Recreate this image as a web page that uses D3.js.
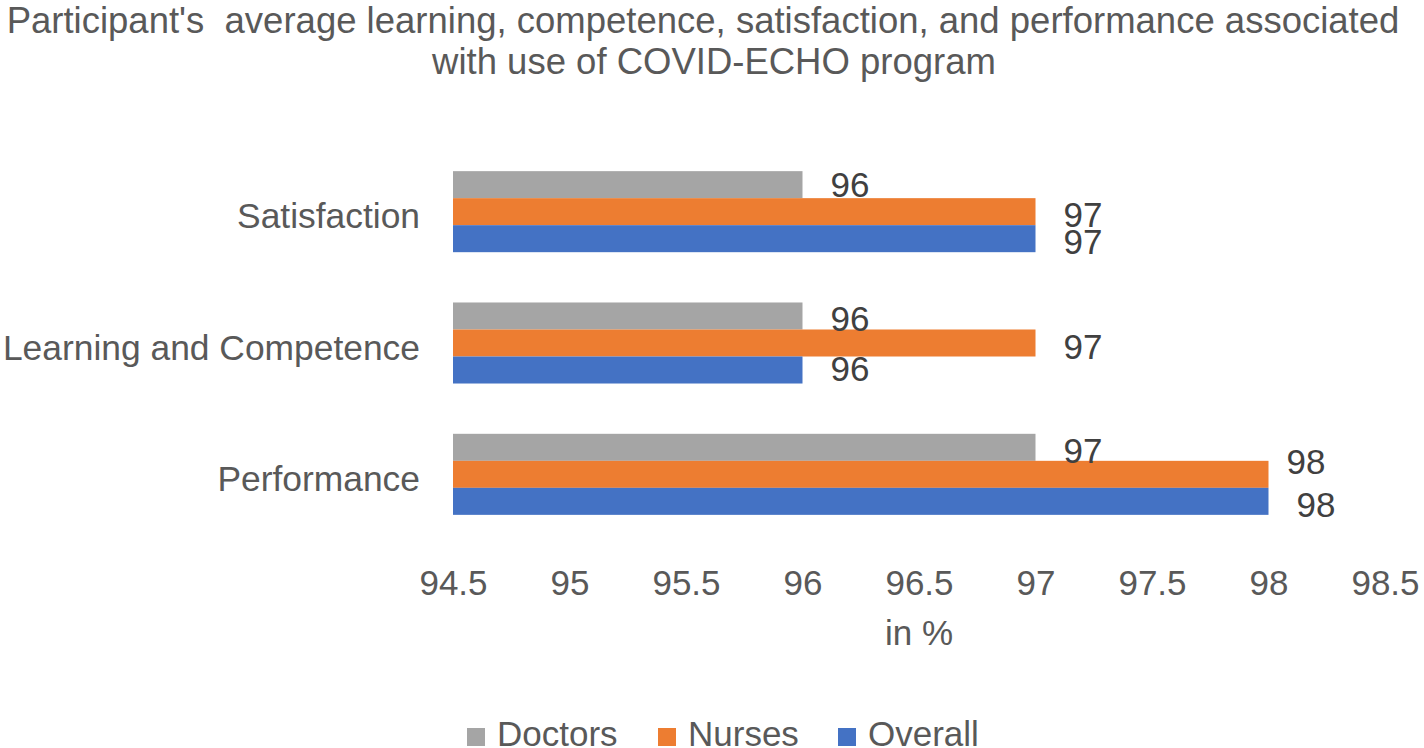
<!DOCTYPE html>
<html>
<head>
<meta charset="utf-8">
<script src="https://cdn.jsdelivr.net/npm/d3@7"></script>
<style>
  html, body { margin: 0; padding: 0; background: #ffffff; }
  svg { display: block; font-family: "Liberation Sans", Arial, sans-serif; }
</style>
</head>
<body>
<svg id="chart" width="1424" height="748"></svg>
<script>
// ---- data ----
const categories = ["Satisfaction", "Learning and Competence", "Performance"];
const seriesNames = ["Doctors", "Nurses", "Overall"];
const doctors = [96, 96, 97];
const nurses  = [97, 97, 98];
const overall = [97, 96, 98];
const tickValues = [94.5, 95, 95.5, 96, 96.5, 97, 97.5, 98, 98.5];
const titleLines = [
  "Participant's  average learning, competence, satisfaction, and performance associated",
  "with use of COVID-ECHO program"
];
const axisTitle = "in %";

// ---- styles ----
const colors = { Doctors: "#A5A5A5", Nurses: "#ED7D31", Overall: "#4472C4" };
const textGray = "#595959";
const labelDark = "#404040";
const fs = 35;

const seriesValues = { Doctors: doctors, Nurses: nurses, Overall: overall };
const rows = [];
categories.forEach((c, i) => seriesNames.forEach(s => rows.push({ cat: c, series: s, value: seriesValues[s][i] })));

const svg = d3.select("#chart");

// title
svg.append("g").selectAll("text").data(titleLines).join("text")
  .attr("x", (d, i) => i === 0 ? 703 : 714)
  .attr("y", (d, i) => 33 + i * 41)
  .attr("text-anchor", "middle")
  .attr("font-size", 36.5)
  .attr("fill", textGray)
  .style("white-space", "pre")
  .text(d => d);

// scales
const x = d3.scaleLinear().domain([tickValues[0], tickValues[tickValues.length - 1]]).range([453, 1385]);
const y = d3.scaleBand().domain(categories).range([146, 540]).paddingInner(0.383).paddingOuter(0.1915);
const ySub = d3.scaleBand().domain(seriesNames).range([0, y.bandwidth()]);

// bars
svg.append("g").selectAll("rect").data(rows).join("rect")
  .attr("x", x(tickValues[0]))
  .attr("y", d => y(d.cat) + ySub(d.series))
  .attr("width", d => x(d.value) - x(tickValues[0]))
  .attr("height", ySub.bandwidth())
  .attr("fill", d => colors[d.series]);

// data labels (with Excel-like placement nudges)
const nudges = {
  "Satisfaction|Doctors": [0, -3],
  "Learning and Competence|Overall": [0, -5],
  "Performance|Nurses": [-10, -16]
};
const nud = d => nudges[d.cat + "|" + d.series] || [0, 0];
svg.append("g").selectAll("text").data(rows).join("text")
  .attr("x", d => x(d.value) + 28 + nud(d)[0])
  .attr("y", d => y(d.cat) + ySub(d.series) + ySub.bandwidth() / 2 + 15.5 + nud(d)[1])
  .attr("font-size", fs)
  .attr("fill", labelDark)
  .text(d => d.value);

// x axis
const xAxis = d3.axisBottom(x).tickValues(tickValues).tickSize(0).tickPadding(30).tickFormat(d3.format("~g"));
const gx = svg.append("g").attr("transform", "translate(0,540)").call(xAxis);
gx.select(".domain").remove();
gx.selectAll("text").attr("font-size", fs).attr("fill", textGray).attr("font-family", "Liberation Sans, Arial, sans-serif");

// y axis
const yAxis = d3.axisLeft(y).tickSize(0).tickPadding(0);
const gy = svg.append("g").attr("transform", "translate(420,0)").call(yAxis);
gy.select(".domain").remove();
gy.selectAll("text").attr("font-size", 35.4).attr("fill", textGray)
  .attr("font-family", "Liberation Sans, Arial, sans-serif")
  .attr("dy", null).attr("y", 16.5);

// axis title
svg.append("text")
  .attr("x", (x.range()[0] + x.range()[1]) / 2)
  .attr("y", 645)
  .attr("text-anchor", "middle")
  .attr("font-size", fs)
  .attr("fill", textGray)
  .text(axisTitle);

// legend
const legendX = [467, 658, 838];
const lg = svg.append("g").selectAll("g").data(seriesNames).join("g")
  .attr("transform", (d, i) => `translate(${legendX[i]},0)`);
lg.append("rect").attr("x", 0).attr("y", 728).attr("width", 18).attr("height", 18).attr("fill", d => colors[d]);
lg.append("text").attr("x", 30).attr("y", 746).attr("font-size", fs).attr("fill", textGray).text(d => d);
</script>
</body>
</html>
